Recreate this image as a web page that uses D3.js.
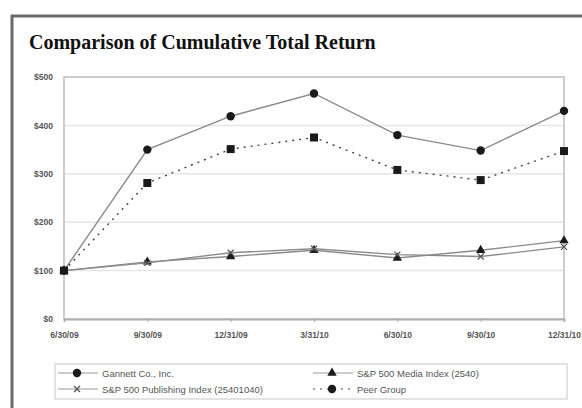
<!DOCTYPE html>
<html>
<head>
<meta charset="utf-8">
<script src="https://cdn.jsdelivr.net/npm/d3@7"></script>
<style>
body{margin:0;background:#fff;}
svg{display:block;}
</style>
</head>
<body>
<svg id="chart" width="582" height="408"></svg>
<script>
// data
let dates = ["6/30/09","9/30/09","12/31/09","3/31/10","6/30/10","9/30/10","12/31/10"];
let yTicks = [0,100,200,300,400,500];
let gannett = [100,350,419,466,380,348,430];
let media = [100,118,129,142,126,142,162];
let publishing = [100,116,137,145,133,129,149];
let peer = [100,281,351,375,308,287,347];

let svg = d3.select("#chart");

// frame
svg.append("path")
    .attr("d","M12,408 V16 H582")
    .attr("fill","none").attr("stroke","#6b6b6b").attr("stroke-width",3);

svg.append("text")
    .attr("x",29).attr("y",49)
    .attr("font-family","Liberation Serif, Times New Roman, serif")
    .attr("font-weight","bold").attr("font-size",20)
    .attr("fill","#111")
    .text("Comparison of Cumulative Total Return");

let pLeft = 64, pRight = 564, pTop = 77, pBottom = 319;

let x = d3.scalePoint().domain(dates).range([pLeft,pRight]);
let y = d3.scaleLinear().domain([0,500]).range([pBottom,pTop]);

// gridlines
svg.append("g").selectAll("line")
    .data(yTicks.filter(d => d>0 && d<500))
    .enter().append("line")
    .attr("x1",pLeft).attr("x2",pRight)
    .attr("y1",d => y(d)).attr("y2",d => y(d))
    .attr("stroke","#e6e6e6").attr("stroke-width",1.5);

// plot border
svg.append("rect")
    .attr("x",pLeft).attr("y",pTop)
    .attr("width",pRight-pLeft).attr("height",pBottom-pTop)
    .attr("fill","none").attr("stroke","#c8c8c8").attr("stroke-width",1.8);

let yAxis = svg.append("g")
    .attr("transform","translate(" + pLeft + ",0)")
    .call(d3.axisLeft(y).tickValues(yTicks).tickSize(0).tickPadding(11).tickFormat(d => "$" + d));
yAxis.select(".domain").remove();
yAxis.selectAll("text").attr("font-family","Liberation Sans, Arial, sans-serif")
    .attr("font-size",8.5).attr("font-weight","bold").attr("fill","#555");

let xAxis = svg.append("g")
    .attr("transform","translate(0," + pBottom + ")")
    .call(d3.axisBottom(x).tickSize(3).tickPadding(10));
xAxis.select(".domain").attr("stroke","#b0b0b0").attr("stroke-width",1.8);
xAxis.selectAll("line").attr("stroke","#aaa");
xAxis.selectAll("text").attr("font-family","Liberation Sans, Arial, sans-serif")
    .attr("font-size",8.5).attr("font-weight","bold").attr("fill","#555");

let line = d3.line().x((d,i) => x(dates[i])).y(d => y(d));

let series = [
    {name:"Gannett Co., Inc.", vals:gannett, dash:null, mark:"circle"},
    {name:"S&P 500 Media Index (2540)", vals:media, dash:null, mark:"triangle"},
    {name:"S&P 500 Publishing Index (25401040)", vals:publishing, dash:null, mark:"x"},
    {name:"Peer Group", vals:peer, dash:"2,5", mark:"square"}
];

function drawMark(g, type, cx, cy){
    if(type=="circle"){
        g.append("circle").attr("cx",cx).attr("cy",cy).attr("r",4.2).attr("fill","#1a1a1a");
    } else if(type=="square"){
        g.append("rect").attr("x",cx-4).attr("y",cy-4).attr("width",8).attr("height",8).attr("fill","#1a1a1a");
    } else if(type=="triangle"){
        g.append("path").attr("d",d3.symbol(d3.symbolTriangle,38)()).attr("transform","translate(" + cx + "," + cy + ")").attr("fill","#1a1a1a");
    } else {
        g.append("path").attr("d","M-3,-3L3,3M-3,3L3,-3").attr("transform","translate(" + cx + "," + cy + ")")
            .attr("stroke","#555").attr("stroke-width",1.3);
    }
}

series.forEach(function(s){
    svg.append("path")
        .datum(s.vals)
        .attr("d",line)
        .attr("fill","none")
        .attr("stroke", s.dash ? "#444" : "#8a8a8a")
        .attr("stroke-width",1.4)
        .attr("stroke-dasharray",s.dash);
    let g = svg.append("g");
    s.vals.forEach((v,i) => drawMark(g, s.mark, x(dates[i]), y(v)));
});

// legend
svg.append("rect").attr("x",55).attr("y",364).attr("width",512).attr("height",35)
    .attr("fill","none").attr("stroke","#d0d0d0").attr("stroke-width",1.2);

let legPos = [[58,373],[313,373],[58,389],[313,389]];
series.forEach(function(s,i){
    let p = legPos[i];
    let g = svg.append("g");
    g.append("line").attr("x1",p[0]).attr("x2",p[0]+40).attr("y1",p[1]).attr("y2",p[1])
        .attr("stroke", s.dash ? "#444" : "#999").attr("stroke-width",1)
        .attr("stroke-dasharray",s.dash);
    drawMark(g, s.mark=="square" ? "circle" : s.mark, p[0]+19, p[1]);
    g.append("text").attr("x",p[0]+44).attr("y",p[1]+3.5)
        .attr("font-family","Liberation Sans, Arial, sans-serif")
        .attr("font-size",9.5).attr("fill","#555").text(s.name);
});
</script>
</body>
</html>
